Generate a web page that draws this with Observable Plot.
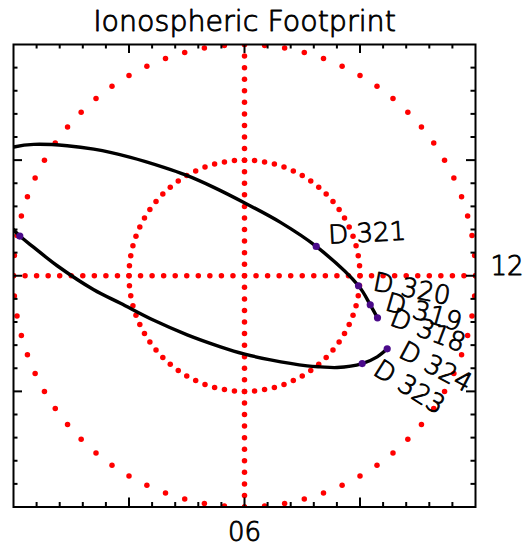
<!DOCTYPE html>
<html>
<head>
<meta charset="utf-8">
<script src="https://cdn.jsdelivr.net/npm/d3@7"></script>
<script src="https://cdn.jsdelivr.net/npm/@observablehq/plot@0.6"></script>
<style>
  html, body { margin: 0; padding: 0; background: #fff; }
</style>
</head>
<body>
<div id="chart"></div>
<script>
// ---- text ----
const chartTitle = "Ionospheric Footprint";
const bottomTickLabels = ["06"];
const rightTickLabels = ["12"];

// ---- grid (colatitude rings, degrees) ----
const ringRadii = [40, 20];
const ringStepDeg = 5;
const crossStep = 2;
const minorTickValues = [-36, -32, -28, -24, -16, -12, -8, -4, 4, 8, 12, 16, 24, 28, 32, 36];
const majorTickValues = [-20, 0, 20];

// ---- footprint track (x, y in degrees from pole) ----
const trackX = [23.03, 21.77, 19.74, 12.42, 6.23, 0.05, -5.32, -10.22, -13.97, -19.74, -26.10, -30.70, -36.48, -39.95,
  -43.0, -44.8, -45.5, -44.3, -42.0,
  -39.95, -38.91, -36.48, -32.43, -26.10, -21.47, -15.71, -9.92, -4.16, 0.05, 4.50, 10.86, 13.16, 16.05, 20.38, 22.98, 24.71];
const trackY = [-7.27, -5.02, -1.73, 5.07, 9.23, 12.59, 15.29, 17.44, 18.75, 20.48, 21.89, 22.49, 22.72, 22.27,
  21.4, 19.8, 17.0, 13.5, 10.2,
  7.91, 6.87, 4.90, 1.73, -2.42, -4.76, -7.71, -10.22, -12.29, -13.56, -14.55, -15.58, -15.76, -15.88, -15.19, -14.03, -12.64];

// ---- day markers ----
const markerX = [23.03, 21.77, 19.74, 12.42, -38.91, 20.38, 24.71];
const markerY = [-7.27, -5.02, -1.73, 5.07, 6.87, -15.19, -12.64];
const markerLabel = ["D 318", "D 319", "D 320", "D 321", "", "D 323", "D 324"];

// label styling (pixel offsets + rotation)
const labelStyle = {
  "D 318": {dx: 14, dy: -1, rotate: 21},
  "D 319": {dx: 16, dy: -3, rotate: 16},
  "D 320": {dx: 15, dy: -4, rotate: 11},
  "D 321": {dx: 12, dy: -11, rotate: -3},
  "D 323": {dx: 14, dy: 3, rotate: 32},
  "D 324": {dx: 14, dy: 0, rotate: 28}
};

// ---- derived tables ----
const ringDots = [];
for (const r of ringRadii) {
  for (let a = 0; a < 360; a += ringStepDeg) {
    const t = a * Math.PI / 180;
    ringDots.push({x: r * Math.cos(t), y: r * Math.sin(t)});
  }
}
const R = ringRadii[0];
const crossDots = [];
for (let v = -R; v <= R + 1e-9; v += crossStep) {
  crossDots.push({x: v, y: 0});
  crossDots.push({x: 0, y: v});
}
const track = trackX.map((x, i) => ({x, y: trackY[i]}));
const markers = markerX.map((x, i) => ({x, y: markerY[i], label: markerLabel[i]}));

const W = 528, H = 546;
const mL = 13, mR = 53, mT = 44, mB = 39.5;
const frameW = W - mL - mR, frameH = H - mT - mB;
const minorLen = 4.5, majorLen = 9;
const font = "DejaVu Sans";
const txt = {fontFamily: font, fontWeight: 200, fill: "black", stroke: "black", strokeWidth: 0.9};

function sideTicks(values, len) {
  const s = {stroke: "black", strokeWidth: 2};
  return [
    Plot.tickX(values, {x: d => d, insetBottom: frameH - len, ...s}),
    Plot.tickX(values, {x: d => d, insetTop: frameH - len, ...s}),
    Plot.tickY(values, {y: d => d, insetRight: frameW - len, ...s}),
    Plot.tickY(values, {y: d => d, insetLeft: frameW - len, ...s})
  ];
}

const labelMarks = markers.filter(d => d.label).map(d => {
  const st = labelStyle[d.label];
  return Plot.text([d], {
    x: "x", y: "y", text: "label",
    dx: st.dx, dy: st.dy, rotate: st.rotate,
    textAnchor: "start", lineAnchor: "middle", fontSize: 26, ...txt
  });
});

const chart = Plot.plot({
  width: W, height: H,
  marginLeft: mL, marginRight: mR, marginTop: mT, marginBottom: mB,
  x: {domain: [-R, R], axis: null},
  y: {domain: [-R, R], axis: null},
  style: {fontFamily: font, background: "white", overflow: "visible"},
  marks: [
    Plot.dot(ringDots, {x: "x", y: "y", r: 2.75, fill: "#ff0000", stroke: "none", clip: true}),
    Plot.dot(crossDots, {x: "x", y: "y", r: 2.75, fill: "#ff0000", stroke: "none", clip: true}),
    Plot.line(track, {x: "x", y: "y", stroke: "black", strokeWidth: 3.4, curve: "catmull-rom", clip: true}),
    Plot.dot(markers, {x: "x", y: "y", r: 3.6, fill: "#4a0a8a", stroke: "none"}),
    ...labelMarks,
    Plot.frame({stroke: "black", strokeWidth: 2}),
    ...sideTicks(minorTickValues, minorLen),
    ...sideTicks(majorTickValues, majorLen),
    Plot.text([0], {x: d => d, frameAnchor: "bottom", text: (d, i) => bottomTickLabels[i],
      lineAnchor: "top", dy: 16, fontSize: 26, ...txt}),
    Plot.text([0], {y: d => d, frameAnchor: "right", text: (d, i) => rightTickLabels[i],
      textAnchor: "start", lineAnchor: "middle", dx: 15, dy: -9, fontSize: 26, ...txt}),
    Plot.text([chartTitle], {frameAnchor: "top", text: d => d, lineAnchor: "middle", dy: -23,
      fontSize: 28.5, ...txt})
  ]
});
document.getElementById("chart").appendChild(chart);
</script>
</body>
</html>
